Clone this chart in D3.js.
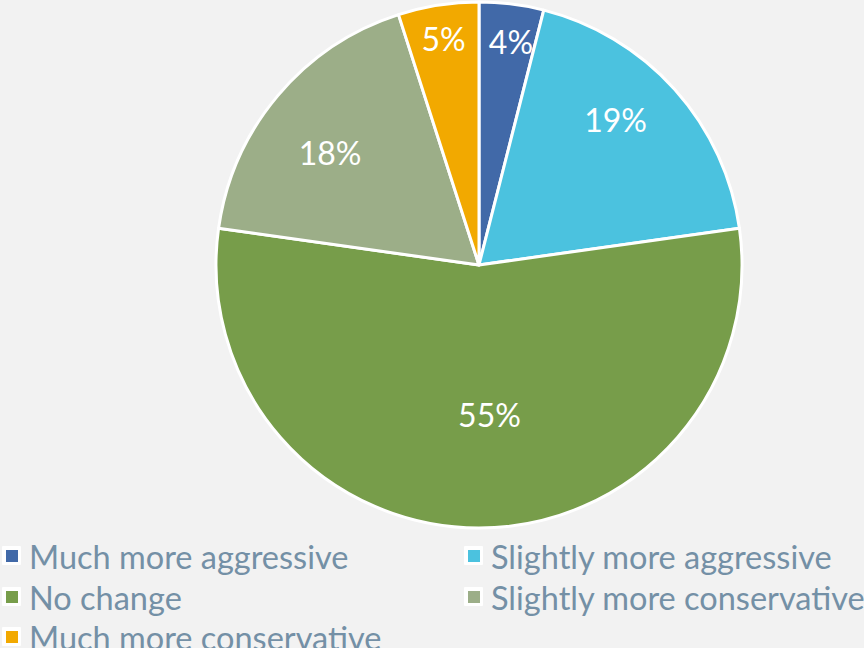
<!DOCTYPE html>
<html><head><meta charset="utf-8">
<script src="https://cdn.jsdelivr.net/npm/d3@7"></script>
<style>html,body{margin:0;padding:0;background:#f2f2f2;}svg{display:block;}</style>
</head><body>
<svg id="chart" width="864" height="648"></svg>
<script>
const categories = ["Much more aggressive","Slightly more aggressive","No change","Slightly more conservative","Much more conservative"];
const values = [4, 19, 55, 18, 5];
const valueLabels = ["4%","19%","55%","18%","5%"];
const colors = ["#4169a8","#4bc2df","#779d4a","#9cae88","#f2a900"];

const svg = d3.select("#chart");
svg.append("rect").attr("width",864).attr("height",648).attr("fill","#f2f2f2");

const cx = 479, cy = 265, R = 263;
const g = svg.append("g").attr("transform",`translate(${cx},${cy})`);
const pie = d3.pie().sort(null).value(d=>d);
const arcs = pie(values);
const arc = d3.arc().innerRadius(0).outerRadius(R);

g.selectAll("path").data(arcs).join("path")
  .attr("d",arc).attr("fill",(d,i)=>colors[i])
  .attr("stroke","#ffffff").attr("stroke-width",3).attr("stroke-linejoin","round");

// label placement (radius factor, angle offset in degrees)
const place = [[0.86,1],[0.76,-5],[0.57,-4],[0.71,-3],[0.87,0]];
g.selectAll("text.lbl").data(arcs).join("text").attr("class","lbl")
  .each(function(d,i){
    const a = (d.startAngle+d.endAngle)/2 + place[i][1]*Math.PI/180;
    const r = R*place[i][0];
    d3.select(this).attr("x", r*Math.sin(a)).attr("y", -r*Math.cos(a));
  })
  .attr("text-anchor","middle").attr("dominant-baseline","central")
  .attr("fill","#ffffff").attr("font-family","Lato, 'Open Sans', sans-serif")
  .attr("font-size",32)
  .text((d,i)=>valueLabels[i]);

// legend
const legX = [4, 466], legY = [556, 597, 637];
const leg = svg.append("g");
categories.forEach((c,i)=>{
  const x = legX[i%2], y = legY[Math.floor(i/2)];
  leg.append("rect").attr("x",x-2).attr("y",y-10).attr("width",19).attr("height",19)
    .attr("fill","#ffffff").attr("rx",1);
  leg.append("rect").attr("x",x+2).attr("y",y-6).attr("width",12).attr("height",12)
    .attr("fill",colors[i]);
  leg.append("text").attr("x",x+25).attr("y",y).attr("dominant-baseline","central")
    .attr("fill","#7490a6").attr("font-family","Lato, 'Open Sans', sans-serif")
    .attr("font-size",32.5).text(c);
});
</script>
</body></html>
